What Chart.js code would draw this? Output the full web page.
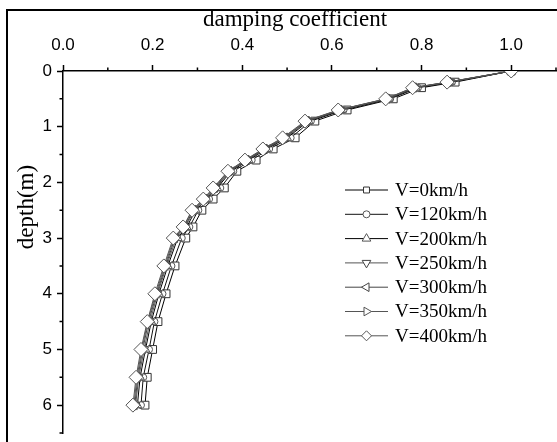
<!DOCTYPE html>
<html>
<head>
<meta charset="utf-8">
<script src="https://cdn.jsdelivr.net/npm/chart.js@4"></script>
<style>
  html, body { margin: 0; padding: 0; background: #fff; }
  #wrap { position: relative; width: 557px; height: 442px; overflow: hidden; }
  #frame { position: absolute; left: 6px; top: 9px; width: 600px; height: 500px; border: 2px solid #000; }
  canvas { position: absolute; left: 0; top: 0; }
</style>
</head>
<body>
<div id="wrap">
  <div id="frame"></div>
  <canvas id="chart" width="557" height="442"></canvas>
</div>
<script>
// depth (m) of the sample points
const depths = [0, 0.2, 0.3, 0.5, 0.7, 0.9, 1.2, 1.4, 1.6, 1.8, 2.1, 2.3, 2.5, 2.8, 3.0, 3.5, 4.0, 4.5, 5.0, 5.5, 6.0];

// damping coefficient per speed
const v0   = [1.0, 0.875, 0.800, 0.737, 0.634, 0.562, 0.518, 0.469, 0.431, 0.388, 0.360, 0.335, 0.310, 0.290, 0.274, 0.250, 0.230, 0.212, 0.200, 0.188, 0.183];
const v120 = [1.0, 0.868, 0.792, 0.730, 0.626, 0.553, 0.508, 0.460, 0.421, 0.380, 0.351, 0.326, 0.302, 0.282, 0.265, 0.242, 0.222, 0.204, 0.192, 0.179, 0.174];
const v200 = [1.0, 0.864, 0.787, 0.726, 0.621, 0.548, 0.500, 0.454, 0.414, 0.375, 0.344, 0.320, 0.296, 0.276, 0.256, 0.234, 0.214, 0.197, 0.184, 0.172, 0.166];
const v250 = [1.0, 0.862, 0.785, 0.724, 0.619, 0.546, 0.497, 0.452, 0.411, 0.373, 0.341, 0.318, 0.293, 0.273, 0.253, 0.231, 0.211, 0.194, 0.181, 0.169, 0.162];
const v300 = [1.0, 0.860, 0.783, 0.723, 0.617, 0.544, 0.494, 0.450, 0.409, 0.371, 0.339, 0.316, 0.291, 0.271, 0.250, 0.229, 0.209, 0.191, 0.178, 0.167, 0.160];
const v350 = [1.0, 0.858, 0.781, 0.721, 0.615, 0.542, 0.492, 0.448, 0.407, 0.369, 0.337, 0.314, 0.289, 0.269, 0.248, 0.227, 0.207, 0.189, 0.176, 0.165, 0.158];
const v400 = [1.0, 0.857, 0.780, 0.720, 0.614, 0.540, 0.490, 0.446, 0.406, 0.368, 0.335, 0.313, 0.288, 0.268, 0.246, 0.225, 0.205, 0.188, 0.174, 0.163, 0.156];

const seriesNames = ['V=0km/h', 'V=120km/h', 'V=200km/h', 'V=250km/h', 'V=300km/h', 'V=350km/h', 'V=400km/h'];
const seriesValues = [v0, v120, v200, v250, v300, v350, v400];

// marker look for each series
const markers = [
  { style: 'rect',     rot: 0,   r: 5.5, lr: 4.2, line: '#000', edge: '#333' },
  { style: 'circle',   rot: 0,   r: 3.5, lr: 3.5, line: '#111', edge: '#555' },
  { style: 'triangle', rot: 0,   r: 5,   lr: 5,   line: '#000', edge: '#555' },
  { style: 'triangle', rot: 180, r: 5,   lr: 5,   line: '#555', edge: '#444' },
  { style: 'triangle', rot: 270, r: 5,   lr: 5,   line: '#444', edge: '#444' },
  { style: 'triangle', rot: 90,  r: 5,   lr: 5,   line: '#555', edge: '#555' },
  { style: 'rectRot',  rot: 0,   r: 7,   lr: 5,   line: '#555', edge: '#555' }
];

const serif = '"Liberation Serif", "Times New Roman", serif';
const sans = '"Liberation Sans", Arial, sans-serif';

const datasets = seriesValues.map((vals, i) => ({
  label: seriesNames[i],
  data: vals.map((v, k) => ({ x: v, y: depths[k] })),
  showLine: true,
  borderColor: markers[i].line,
  borderWidth: 1,
  tension: 0,
  pointStyle: markers[i].style,
  pointRotation: markers[i].rot,
  pointRadius: markers[i].r,
  pointBackgroundColor: '#fff',
  pointBorderColor: markers[i].edge,
  pointBorderWidth: 1,
  order: seriesValues.length - i
}));

// short minor ticks (the ones without a label) + axis titles
const minorTicks = {
  id: 'minorTicks',
  afterDraw(chart) {
    const ctx = chart.ctx;
    const xs = chart.scales.x, ys = chart.scales.y;
    ctx.save();
    ctx.strokeStyle = '#000';
    ctx.lineWidth = 1.5;
    ctx.beginPath();
    xs.ticks.forEach(t => {
      if (Math.round(t.value * 10) % 2 !== 0) {
        const px = xs.getPixelForValue(t.value);
        ctx.moveTo(px, xs.bottom);
        ctx.lineTo(px, xs.bottom - 3.5);
      }
    });
    ys.ticks.forEach(t => {
      if (!Number.isInteger(t.value)) {
        const py = ys.getPixelForValue(t.value);
        ctx.moveTo(ys.right, py);
        ctx.lineTo(ys.right - 3.5, py);
      }
    });
    ctx.stroke();

    ctx.fillStyle = '#000';
    ctx.font = '23px ' + serif;
    ctx.textAlign = 'center';
    ctx.textBaseline = 'middle';
    // x title is a little left of the plot centre
    ctx.fillText('damping coefficient', 295, 20);
    // depth title sits a bit above the middle of the axis
    ctx.translate(27, 207);
    ctx.rotate(-Math.PI / 2);
    ctx.fillText('depth(m)', 0, 0);
    ctx.restore();
  }
};

// legend with a line through each marker
const lineLegend = {
  id: 'lineLegend',
  afterDraw(chart) {
    const ctx = chart.ctx;
    ctx.save();
    seriesNames.forEach((name, i) => {
      const y = 190 + i * 24.3;
      const m = markers[i];
      ctx.strokeStyle = m.line;
      ctx.lineWidth = 1;
      ctx.beginPath();
      ctx.moveTo(345, y);
      ctx.lineTo(388, y);
      ctx.stroke();
      ctx.fillStyle = '#fff';
      ctx.strokeStyle = m.edge;
      Chart.helpers.drawPoint(ctx, { pointStyle: m.style, rotation: m.rot, radius: m.lr, borderWidth: 1 }, 366.5, y);
      ctx.fillStyle = '#000';
      ctx.font = '19px ' + serif;
      ctx.textBaseline = 'middle';
      ctx.textAlign = 'left';
      ctx.fillText(name, 395, y + 1);
    });
    ctx.restore();
  }
};

new Chart(document.getElementById('chart'), {
  type: 'scatter',
  data: { datasets },
  options: {
    responsive: false,
    animation: false,
    layout: { autoPadding: false, padding: { left: 0, top: 0, right: 1, bottom: 9 } },
    plugins: { legend: { display: false }, tooltip: { enabled: false } },
    scales: {
      x: {
        type: 'linear',
        position: 'top',
        min: 0,
        max: 1.1,
        afterFit: s => { s.height = 71; s.paddingLeft = 0; s.paddingRight = 0; },
        ticks: {
          stepSize: 0.1,
          autoSkip: false,
          maxRotation: 0,
          padding: 9,
          color: '#000',
          font: { family: sans, size: 17 },
          callback: v => (Math.round(v * 10) % 2 === 0 ? v.toFixed(1) : '')
        },
        grid: {
          drawOnChartArea: false,
          tickLength: 6,
          tickWidth: 1.5,
          tickColor: c => (c.tick && Math.round(c.tick.value * 10) % 2 === 0 ? '#000' : 'rgba(0,0,0,0)')
        },
        border: { color: '#000', width: 1.5 },
        title: { display: false }
      },
      y: {
        type: 'linear',
        reverse: true,
        min: 0,
        max: 6.5,
        afterFit: s => { s.width = 63; s.paddingTop = 0; s.paddingBottom = 0; },
        ticks: {
          stepSize: 0.5,
          autoSkip: false,
          padding: 5,
          color: '#000',
          font: { family: sans, size: 17 },
          callback: v => (Number.isInteger(v) ? v : '')
        },
        grid: {
          drawOnChartArea: false,
          tickLength: 6,
          tickWidth: 1.5,
          tickColor: c => (c.tick && Number.isInteger(c.tick.value) ? '#000' : 'rgba(0,0,0,0)')
        },
        border: { color: '#000', width: 1.5 },
        title: { display: false }
      }
    }
  },
  plugins: [minorTicks, lineLegend]
});
</script>
</body>
</html>
